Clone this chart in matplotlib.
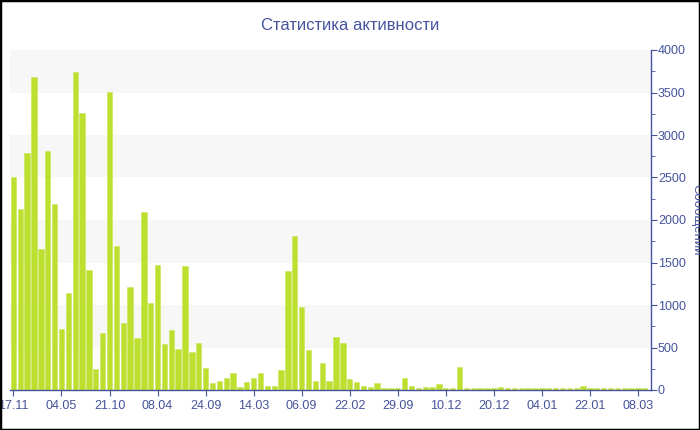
import numpy as np
import matplotlib
matplotlib.use("Agg")
import matplotlib.pyplot as plt
from matplotlib.patches import Rectangle
from matplotlib.ticker import MultipleLocator

# данные по неделям
values = [2510, 2126, 2792, 3686, 1655, 2816, 2184, 718, 1137, 3745,
          3255, 1412, 243, 667, 3506, 1690, 784, 1216, 616, 2094,
          1024, 1467, 541, 702, 482, 1455, 443, 549, 259, 82,
          110, 145, 204, 39, 90, 137, 204, 47, 43, 235,
          1400, 1812, 980, 471, 106, 318, 110, 624, 549, 125,
          98, 47, 35, 78, 24, 24, 27, 145, 51, 18,
          39, 39, 67, 24, 22, 267, 20, 22, 21, 22,
          23, 36, 23, 22, 21, 22, 22, 23, 21, 22,
          22, 23, 21, 48, 22, 21, 22, 22, 23, 24,
          21, 22, 20]
tick_labels = ['17.11', '04.05', '21.10', '08.04', '24.09', '14.03', '06.09',
               '22.02', '29.09', '10.12', '20.12', '04.01', '22.01', '08.03']

blue = '#45549c'
plt.rcParams['font.family'] = ['Liberation Sans', 'DejaVu Sans']

fig = plt.figure(figsize=(7, 4.3), dpi=100)
ax = fig.add_axes([10/700, 40/430, 641/700, 340/430])

x = np.arange(len(values))
# полосы фона
for lo in range(500, 4000, 1000):
    ax.axhspan(lo, lo + 500, color='#f7f7f7', zorder=0, lw=0)
ax.bar(x, values, width=0.78, color='#bde02e', edgecolor='#c8e65a', linewidth=0.4, zorder=2)

ax.set_xlim(-0.5, 92.9)
ax.set_ylim(0, 4000)
ax.set_xticks(x[::7])
ax.set_xticklabels(tick_labels)
ax.yaxis.tick_right()
ax.yaxis.set_major_locator(MultipleLocator(500))
ax.yaxis.set_minor_locator(MultipleLocator(250))

for s in ['left', 'top']:
    ax.spines[s].set_visible(False)
for s in ['right', 'bottom']:
    ax.spines[s].set_color(blue)
    ax.spines[s].set_linewidth(1.0)

ax.tick_params(axis='x', colors=blue, labelsize=9, length=4, pad=3)
ax.tick_params(axis='y', which='major', colors=blue, labelsize=9, length=4, pad=1)
ax.tick_params(axis='y', which='minor', colors=blue, length=3)
for lab in ax.get_xticklabels() + ax.get_yticklabels():
    lab.set_color(blue)

fig.text(0.5, 1 - 25/430, 'Статистика активности', ha='center', va='center',
         fontsize=12, color=blue)
fig.text(697/700, 1 - 220/430, 'Сообщений', ha='center', va='center',
         rotation=270, fontsize=9.5, color=blue)

fig.patches.append(Rectangle((0, 0), 1, 1, transform=fig.transFigure,
                             fill=False, edgecolor='black', linewidth=2.5))

fig.savefig('out.png', dpi=100)
